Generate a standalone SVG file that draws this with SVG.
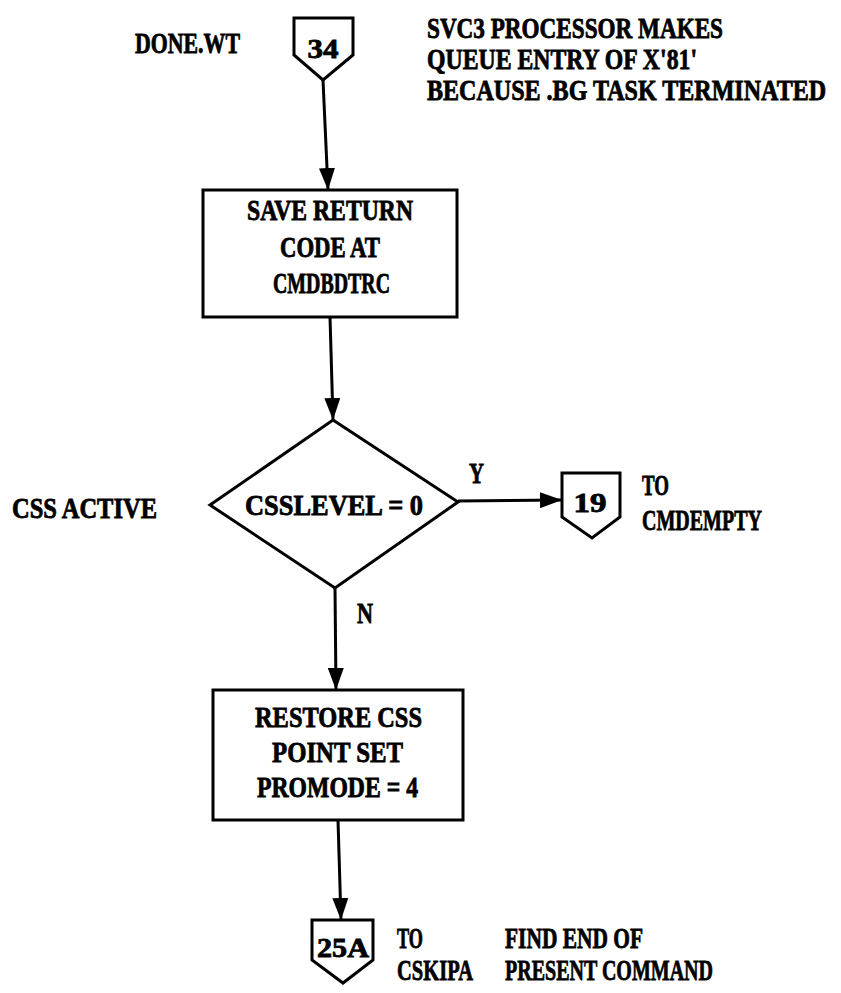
<svg xmlns="http://www.w3.org/2000/svg" width="841" height="993" viewBox="0 0 841 993">
  <style>
    .ln { fill: none; stroke: #000; stroke-width: 3; stroke-linejoin: miter; }
    .sh { fill: #fff; stroke: #000; stroke-width: 3; stroke-linejoin: miter; }
    text { font-family: "Liberation Serif", "Times New Roman", serif; font-weight: bold; font-size: 29px; fill: #000; stroke: #000; stroke-width: 0.8; }
    .num { font-size: 28px; }
  </style>
  <defs>
    <marker id="arrow" markerUnits="userSpaceOnUse" markerWidth="24" markerHeight="16" refX="22" refY="8" orient="auto">
      <path d="M0,0 L22,8 L0,16 Z" fill="#000"/>
    </marker>
  </defs>

  <rect width="841" height="993" fill="#fff"/>

  <!-- flow lines -->
  <g id="connectors">
    <line class="ln" x1="323" y1="80" x2="328" y2="190" marker-end="url(#arrow)"/>
    <line class="ln" x1="330" y1="317" x2="333" y2="420" marker-end="url(#arrow)"/>
    <line class="ln" x1="458" y1="501" x2="562" y2="500" marker-end="url(#arrow)"/>
    <line class="ln" x1="335" y1="588" x2="336" y2="690" marker-end="url(#arrow)"/>
    <line class="ln" x1="338" y1="820" x2="341" y2="920" marker-end="url(#arrow)"/>
  </g>

  <!-- entry point 34 -->
  <g id="entry34">
    <path class="sh" d="M294,18 L353,18 L353,55 L323,80 L294,55 Z"/>
    <text class="num" x="323" y="58" text-anchor="middle" textLength="31" lengthAdjust="spacingAndGlyphs">34</text>
    <text x="135" y="53" textLength="105" lengthAdjust="spacingAndGlyphs">DONE.WT</text>
    <text x="427" y="38" textLength="296" lengthAdjust="spacingAndGlyphs">SVC3 PROCESSOR MAKES</text>
    <text x="427" y="69" textLength="270" lengthAdjust="spacingAndGlyphs">QUEUE ENTRY OF X'81'</text>
    <!-- condensed with a horizontal scale so the line stays inside the page -->
    <text transform="translate(427,100) scale(0.83,1)" x="0" y="0">BECAUSE .BG TASK TERMINATED</text>
  </g>

  <!-- save return code -->
  <g id="saveRC">
    <rect class="sh" x="203" y="190" width="254" height="127"/>
    <text x="247" y="220" textLength="166" lengthAdjust="spacingAndGlyphs">SAVE RETURN</text>
    <text x="280" y="257" textLength="100" lengthAdjust="spacingAndGlyphs">CODE AT</text>
    <text x="273" y="293" textLength="117" lengthAdjust="spacingAndGlyphs">CMDBDTRC</text>
  </g>

  <!-- decision -->
  <g id="cssLevel">
    <path class="sh" d="M333,420 L458,502 L335,588 L210,505 Z"/>
    <text x="245" y="515" textLength="178" lengthAdjust="spacingAndGlyphs">CSSLEVEL = 0</text>
    <text x="12" y="518" textLength="145" lengthAdjust="spacingAndGlyphs">CSS ACTIVE</text>
    <text x="469" y="483" textLength="15" lengthAdjust="spacingAndGlyphs">Y</text>
    <text x="357" y="623" textLength="16" lengthAdjust="spacingAndGlyphs">N</text>
  </g>

  <!-- exit 19 -->
  <g id="exit19">
    <path class="sh" d="M562,473 L620,473 L620,517 L592,538 L562,517 Z"/>
    <text class="num" x="590" y="512" text-anchor="middle" textLength="33" lengthAdjust="spacingAndGlyphs">19</text>
    <text x="642" y="495" textLength="27" lengthAdjust="spacingAndGlyphs">TO</text>
    <text x="642" y="530" textLength="120" lengthAdjust="spacingAndGlyphs">CMDEMPTY</text>
  </g>

  <!-- restore css -->
  <g id="restoreCSS">
    <rect class="sh" x="213" y="690" width="250" height="130"/>
    <text x="255" y="727" textLength="167" lengthAdjust="spacingAndGlyphs">RESTORE CSS</text>
    <text x="272" y="762" textLength="131" lengthAdjust="spacingAndGlyphs">POINT SET</text>
    <text x="257" y="797" textLength="161" lengthAdjust="spacingAndGlyphs">PROMODE = 4</text>
  </g>

  <!-- exit 25A -->
  <g id="exit25A">
    <path class="sh" d="M312,920 L373,920 L373,960 L343,983 L312,960 Z"/>
    <text class="num" x="343" y="957" text-anchor="middle" textLength="52" lengthAdjust="spacingAndGlyphs">25A</text>
    <text x="397" y="948" textLength="26" lengthAdjust="spacingAndGlyphs">TO</text>
    <text x="397" y="980" textLength="76" lengthAdjust="spacingAndGlyphs">CSKIPA</text>
    <text x="505" y="948" textLength="138" lengthAdjust="spacingAndGlyphs">FIND END OF</text>
    <text x="505" y="980" textLength="208" lengthAdjust="spacingAndGlyphs">PRESENT COMMAND</text>
  </g>
</svg>
